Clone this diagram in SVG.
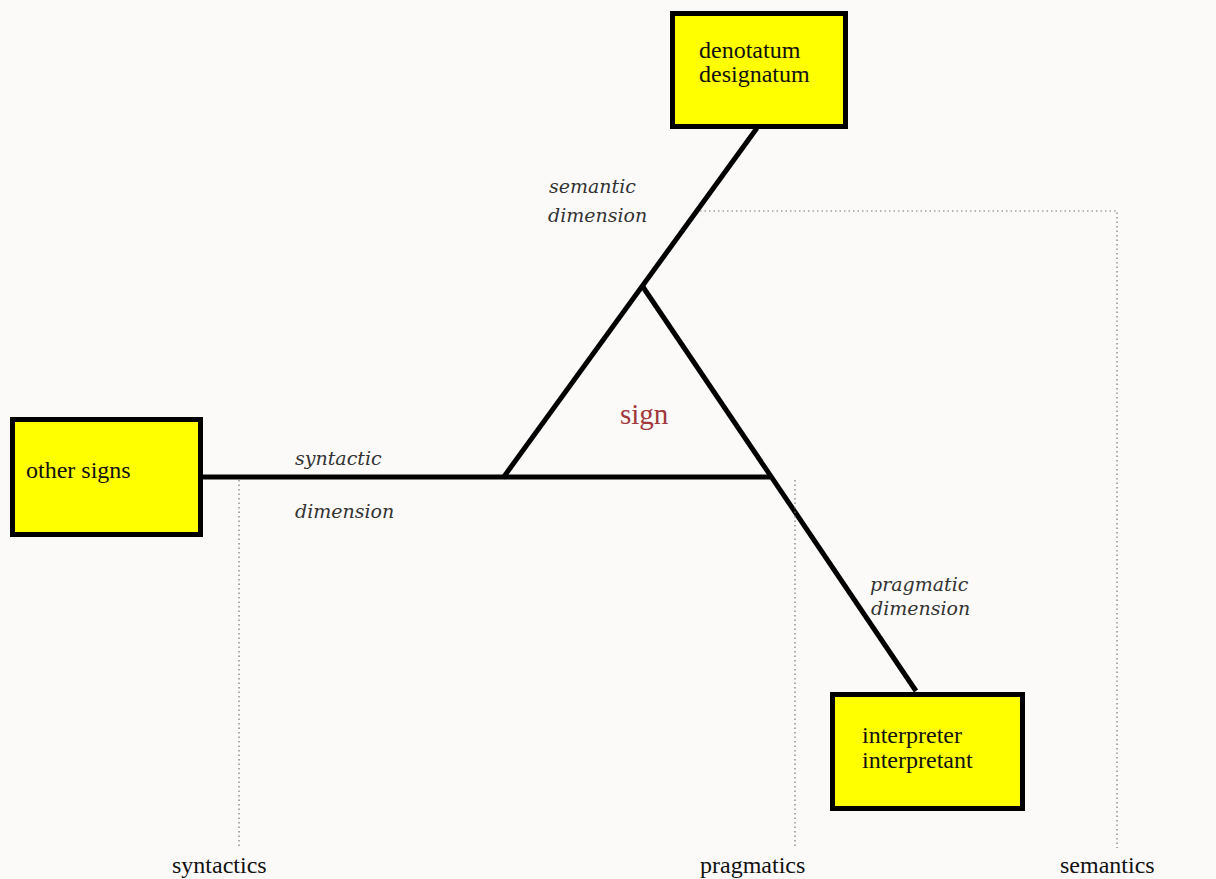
<svg xmlns="http://www.w3.org/2000/svg" width="1216" height="879" viewBox="0 0 1216 879">
<style>
.box{fill:#ffff00;stroke:#000;stroke-width:5}
.ln{stroke:#000;stroke-width:5;fill:none;stroke-linecap:butt}
.dot{stroke:#777;stroke-width:1.2;stroke-dasharray:1.5 3;fill:none}
.lbl{font-family:"Liberation Serif",serif;font-size:24px;fill:#111}
.dim{font-family:"DejaVu Serif",serif;font-style:italic;font-size:19px;fill:#333}
.sign{font-family:"Liberation Serif",serif;font-size:29px;fill:#a0383c}
</style>
<rect width="1216" height="879" fill="#fcfaf8"/>
<g id="connectors">
<line class="ln" x1="757" y1="128" x2="503" y2="478"/>
<line class="ln" x1="643" y1="287" x2="916" y2="691"/>
<line class="ln" x1="203" y1="477" x2="770" y2="477"/>
<polyline class="dot" points="700,211 1117,211 1117,848"/>
<line class="dot" x1="239" y1="480" x2="239" y2="846"/>
<line class="dot" x1="795" y1="480" x2="795" y2="848"/>
</g>
<g id="sign"><text class="sign" x="620" y="424">sign</text></g>
<g id="denotatum">
<rect class="box" x="672.5" y="13.5" width="173" height="113"/>
<text class="lbl" x="699" y="58">denotatum</text>
<text class="lbl" x="699" y="82">designatum</text>
</g>
<g id="other-signs">
<rect class="box" x="12.5" y="419.5" width="188" height="115"/>
<text class="lbl" x="26" y="478">other signs</text>
</g>
<g id="interpreter">
<rect class="box" x="832.5" y="694.5" width="190" height="114"/>
<text class="lbl" x="862" y="743">interpreter</text>
<text class="lbl" x="862" y="768">interpretant</text>
</g>
<g id="dimension-labels">
<text class="dim" x="549" y="193">semantic</text>
<text class="dim" x="548" y="222">dimension</text>
<text class="dim" x="295" y="465">syntactic</text>
<text class="dim" x="295" y="518">dimension</text>
<text class="dim" x="870" y="591">pragmatic</text>
<text class="dim" x="871" y="615">dimension</text>
</g>
<g id="bottom-labels">
<text class="lbl" x="172" y="873">syntactics</text>
<text class="lbl" x="700" y="873">pragmatics</text>
<text class="lbl" x="1060" y="873">semantics</text>
</g>
</svg>
